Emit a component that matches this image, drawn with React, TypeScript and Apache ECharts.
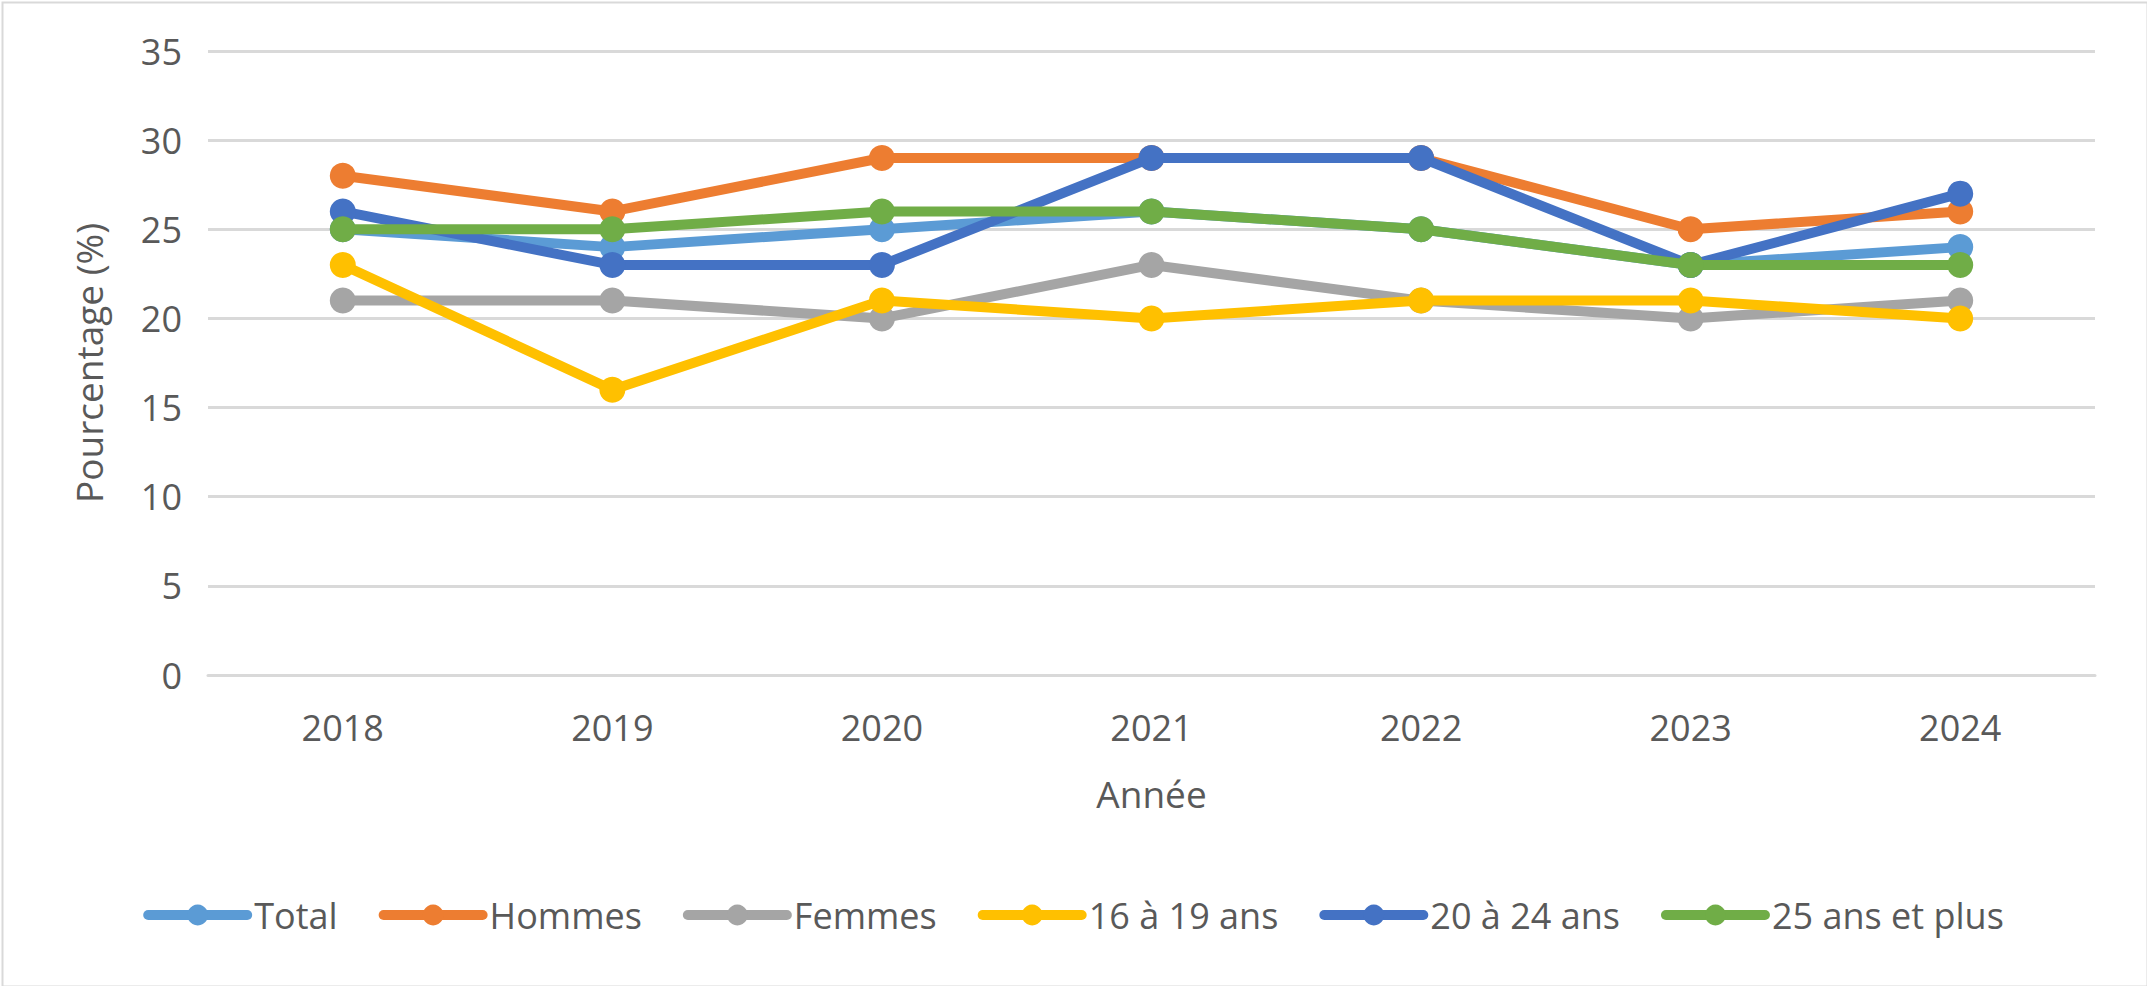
import React, { useEffect, useRef } from "react";
import * as echarts from "echarts";

const years = ["2018", "2019", "2020", "2021", "2022", "2023", "2024"];
const seriesNames = ["Total", "Hommes", "Femmes", "16 à 19 ans", "20 à 24 ans", "25 ans et plus"];
const total = [25, 24, 25, 26, 25, 23, 24];
const hommes = [28, 26, 29, 29, 29, 25, 26];
const femmes = [21, 21, 20, 23, 21, 20, 21];
const ans16a19 = [23, 16, 21, 20, 21, 21, 20];
const ans20a24 = [26, 23, 23, 29, 29, 23, 27];
const ans25plus = [25, 25, 26, 26, 25, 23, 23];
const colors = ["#5B9BD5", "#ED7D31", "#A5A5A5", "#FFC000", "#4472C4", "#70AD47"];
const yTicks = { min: 0, max: 35, interval: 5 };

const FONT = "'Open Sans', 'Noto Sans', sans-serif";
const TEXT = "#595959";

export default function App() {
  const ref = useRef<HTMLDivElement>(null);
  useEffect(() => {
    document.body.style.margin = "0";
    const chart = echarts.init(ref.current!, null, { renderer: "svg" });
    const data = [total, hommes, femmes, ans16a19, ans20a24, ans25plus];
    chart.setOption({
      animation: false,
      backgroundColor: "#ffffff",
      color: colors,
      textStyle: { fontFamily: FONT },
      graphic: [
        {
          type: "rect",
          left: 0,
          top: 0,
          shape: { x: 1, y: 1, width: 2145, height: 984 },
          style: { fill: "none", stroke: "#d9d9d9", lineWidth: 2 },
          silent: true,
        },
      ],
      grid: { left: 208, right: 52, top: 51, bottom: 311 },
      legend: {
        bottom: 48,
        left: "center",
        itemWidth: 99,
        itemHeight: 26,
        itemGap: 41,
        lineStyle: { width: 10, cap: "round" },
        textStyle: { fontSize: 36, color: TEXT, fontFamily: FONT, padding: [0, 0, 0, 2] },
        data: seriesNames,
      },
      xAxis: {
        type: "category",
        data: years,
        boundaryGap: true,
        name: "Année",
        nameLocation: "middle",
        nameGap: 100,
        nameTextStyle: { fontSize: 37, color: TEXT, fontFamily: FONT },
        axisLine: { show: true, lineStyle: { color: "#d9d9d9", width: 3 } },
        axisTick: { show: false },
        axisLabel: { fontSize: 36, color: TEXT, fontFamily: FONT, margin: 34 },
      },
      yAxis: {
        type: "value",
        min: yTicks.min,
        max: yTicks.max,
        interval: yTicks.interval,
        name: "Pourcentage (%)",
        nameLocation: "middle",
        nameGap: 101,
        nameTextStyle: { fontSize: 37, color: TEXT, fontFamily: FONT },
        axisLine: { show: false },
        axisTick: { show: false },
        axisLabel: { fontSize: 36, color: TEXT, fontFamily: FONT, margin: 26 },
        splitLine: { lineStyle: { color: "#d9d9d9", width: 3 } },
      },
      series: seriesNames.map((name, i) => ({
        name,
        type: "line",
        data: data[i],
        symbol: "circle",
        symbolSize: 26,
        showSymbol: true,
        lineStyle: { width: 10, color: colors[i], cap: "round" },
        itemStyle: { color: colors[i] },
        z: 2 + i,
      })),
    });
    return () => chart.dispose();
  }, []);
  return <div ref={ref} style={{ width: 2147, height: 986 }} />;
}
